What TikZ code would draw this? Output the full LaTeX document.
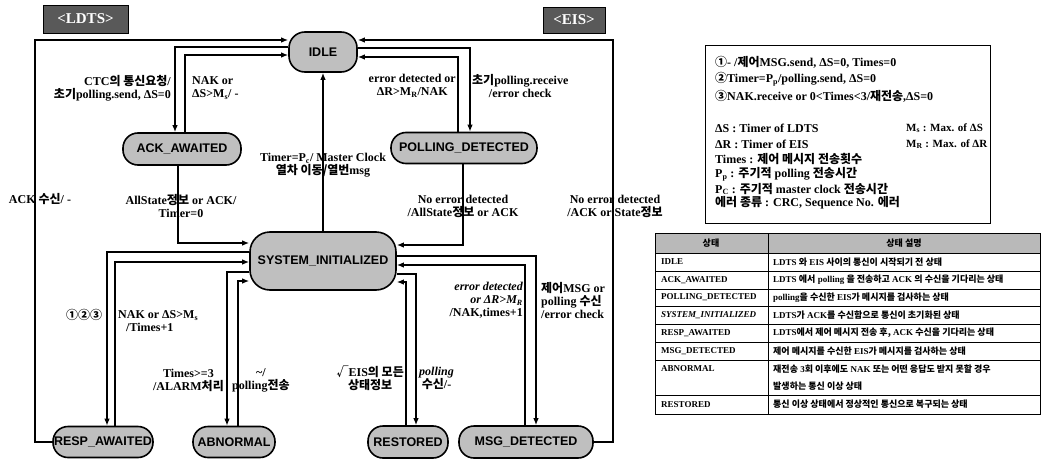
\documentclass[tikz,border=0pt]{standalone}
\usepackage{fontspec}
\setmainfont{Liberation Serif}
\newfontfamily\sansf{Liberation Sans}
\newfontfamily\krf[Scale=1.0]{Noto Sans CJK KR}
\newcommand\hk[1]{{\krf\bfseries #1}}
\usetikzlibrary{arrows.meta,calc}
\begin{document}
\begin{tikzpicture}[x=1pt,y=-1pt,
  st/.style={draw=black,line width=1.6pt,fill=gray!50,inner sep=0pt,
     font=\sansf\bfseries\fontsize{12.5}{13}\selectfont},
  tag/.style={draw=black,line width=0.8pt,fill=black!65,text=white,inner sep=0pt,
     font=\bfseries\fontsize{15}{15}\selectfont},
  arr/.style={line width=1.3pt,-{Latex[length=7pt,width=5.5pt]}},
  lbl/.style={inner sep=0pt,font=\bfseries\fontsize{12}{13}\selectfont},
  leg/.style={inner sep=0pt,anchor=west,font=\bfseries\fontsize{12}{13}\selectfont},
  legr/.style={inner sep=0pt,anchor=west,font=\bfseries\fontsize{11}{12}\selectfont},
  tb/.style={inner sep=0pt,anchor=west,font=\bfseries\fontsize{9}{10}\selectfont},
]
\useasboundingbox (0,0) rectangle (1045,471);
\fill[white] (0,0) rectangle (1045,471);

% titles
\node[tag,minimum width=85pt,minimum height=28pt] (tldts) at (85.5,19) {<LDTS>};
\node[tag,minimum width=62pt,minimum height=26pt] (teis) at (574,20) {<EIS>};

% states
\node[st,minimum width=68pt,minimum height=40pt,rounded corners=16pt] (idle) at (323,52) {IDLE};
\node[st,minimum width=118pt,minimum height=32pt,rounded corners=15pt] (ack) at (182,149) {ACK\_AWAITED};
\node[st,minimum width=146pt,minimum height=31pt,rounded corners=15pt] (poll) at (464,148) {POLLING\_DETECTED};
\node[st,minimum width=146pt,minimum height=58pt,rounded corners=20pt] (sys) at (323,261) {SYSTEM\_INITIALIZED};
\node[st,minimum width=100pt,minimum height=31pt,rounded corners=15pt] (resp) at (103,442) {RESP\_AWAITED};
\node[st,minimum width=82pt,minimum height=31pt,rounded corners=15pt] (abn) at (234,442) {ABNORMAL};
\node[st,minimum width=80pt,minimum height=32pt,rounded corners=15pt] (rest) at (408,442) {RESTORED};
\node[st,minimum width=134pt,minimum height=32pt,rounded corners=15pt] (msg) at (526,442) {MSG\_DETECTED};

\coordinate (cA) at (35,40);
\coordinate (cB) at (613,40);

% connectors
\draw[arr] (resp.west) -| (cA) -- (idle.west |- cA);
\draw[arr] (idle.west |- 0,47) -| ([xshift=-7pt]ack.north);
\draw[arr] ([xshift=3pt]ack.north) |- (idle.west |- 0,55);
\draw[arr] (idle.east |- 0,48) -| ([xshift=6pt]poll.north);
\draw[arr] ([xshift=-6pt]poll.north) |- (idle.east |- 0,57);
\draw[arr] (msg.east) -| (cB) -- (idle.east |- cB);
\draw[arr] (sys.north) -- (sys.north |- idle.south);
\draw[arr] ([xshift=-4pt]ack.south) |- (sys.west |- 0,243);
\draw[arr] ([xshift=-1pt]poll.south) |- (sys.east |- 0,245);
\draw[arr] (sys.west |- 0,252) -| ([xshift=4pt]resp.north);
\draw[arr] ([xshift=12pt]resp.north) |- (sys.west |- 0,262);
\draw[arr] (sys.west |- 0,272) -| ([xshift=-7pt]abn.north);
\draw[arr] ([xshift=4pt]abn.north) |- (sys.west |- 0,281);
\draw[arr] (sys.east |- 0,256) -| ([xshift=10pt]msg.north);
\draw[arr] ([xshift=-1pt]msg.north) |- (sys.east |- 0,265);
\draw[arr] (sys.east |- 0,274) -| ([xshift=8pt]rest.north);
\draw[arr] ([xshift=-2pt]rest.north) |- (sys.east |- 0,282);

% labels
\node[lbl,anchor=east,align=right] (lctc) at (171,88) {CTC\hk{의 통신요청}/\\\hk{초기}polling.send, ΔS=0};
\node[lbl,anchor=west,align=left] (lnak) at (192,88) {NAK or\\ΔS>M\textsubscript{s}/ -};
\node[lbl,anchor=east,align=center] (lerr) at (456,86) {error detected or\\ΔR>M\textsubscript{R}/NAK};
\node[lbl,anchor=west,align=center] (lrcv) at (472,86) {\hk{초기}polling.receive\\/error check};
\node[lbl,align=center] (ltim) at (323,165) {Timer=P\textsubscript{c}/ Master Clock\\\hk{열차 이동/열번}msg};
\node[lbl] (lack) at (40,199) {ACK \hk{수신}/ -};
\node[lbl,align=center] (lall) at (181,206) {AllState\hk{정보} or ACK/\\Timer=0};
\node[lbl,align=center] (lno1) at (463,206) {No error detected\\/AllState\hk{정보} or ACK};
\node[lbl,align=center] (lno2) at (615,206) {No error detected\\/ACK or State\hk{정보}};
\node[lbl] (lcirc) at (84,315) {\hk{①②③}};
\node[lbl,anchor=west,align=left] (lnak2) at (118,321) {NAK or ΔS>M\textsubscript{s}\\\hspace{8pt}/Times+1};
\node[lbl,anchor=east,align=right] (lerr2) at (523,300) {{\itshape error detected}\\{\itshape or ΔR>M\textsubscript{R}}\\/NAK,times+1};
\node[lbl,anchor=west,align=left] (lctl) at (541,300) {\hk{제어}MSG or\\polling \hk{수신}\\/error check};
\node[lbl,anchor=east,align=center] (ltm3) at (224,380) {Times>=3\\/ALARM\hk{처리}};
\node[lbl,anchor=west,align=center] (lpol) at (232,380) {\textasciitilde/\\polling\hk{전송}};
\node[lbl,anchor=east,align=center] (leis) at (404,378) {\hk{√}EIS\hk{의 모든}\\\hk{상태정보}};
\node[lbl,anchor=west,align=center] (lps) at (419,378) {{\itshape polling}\\\hk{수신}/-};

% legend
\node[draw,line width=1pt,minimum width=285pt,minimum height=178pt,inner sep=0pt] (legbox) at (847.5,134) {};
\node[leg] (g1) at (715,62) {\hk{①}- /\hk{제어}MSG.send, ΔS=0, Times=0};
\node[leg] (g2) at (715,79) {\hk{②}Timer=P\textsubscript{p}/polling.send, ΔS=0};
\node[leg] (g3) at (715,96) {\hk{③}NAK.receive or 0<Times<3/\hk{재전송},ΔS=0};
\node[leg] (g4) at (715,128) {ΔS : Timer of LDTS};
\node[legr] (g5) at (906,128) {M\textsubscript{s} : Max. of ΔS};
\node[leg] (g6) at (715,144) {ΔR : Timer of EIS};
\node[legr] (g7) at (906,144) {M\textsubscript{R} : Max. of ΔR};
\node[leg] (g8) at (715,159) {Times : \hk{제어 메시지 전송횟수}};
\node[leg] (g9) at (715,174) {P\textsubscript{p} : \hk{주기적} polling \hk{전송시간}};
\node[leg] (g10) at (715,189) {P\textsubscript{C} : \hk{주기적} master clock \hk{전송시간}};
\node[leg] (g11) at (715,203) {\hk{에러 종류} : CRC, Sequence No. \hk{에러}};

% table
\fill[gray!55] (655,233) rectangle (1040,253);
\draw[line width=1pt] (655,233) rectangle (1040,414);
\foreach \yy in {253,271,289,306,324,342,360,395} \draw[line width=0.8pt] (655,\yy) -- (1040,\yy);
\draw[line width=0.8pt] (768,233) -- (768,414);
\node[tb,anchor=center] (h1) at (711,243) {\hk{상태}};
\node[tb,anchor=center] (h2) at (904,243) {\hk{상태 설명}};
\node[tb] (r1) at (661,262) {IDLE};
\node[tb] (r2) at (661,280) {ACK\_AWAITED};
\node[tb] (r3) at (661,297.5) {POLLING\_DETECTED};
\node[tb] (r4) at (661,315) {\itshape SYSTEM\_INITIALIZED};
\node[tb] (r5) at (661,333) {RESP\_AWAITED};
\node[tb] (r6) at (661,351) {MSG\_DETECTED};
\node[tb] (r7) at (661,369) {ABNORMAL};
\node[tb] (r8) at (661,404.5) {RESTORED};
\node[tb] (d1) at (773,262) {LDTS \hk{와} EIS \hk{사이의 통신이 시작되기 전 상태}};
\node[tb] (d2) at (773,280) {LDTS \hk{에서} polling \hk{을 전송하고} ACK \hk{의 수신을 기다리는 상태}};
\node[tb] (d3) at (773,297.5) {polling\hk{을 수신한} EIS\hk{가 메시지를 검사하는 상태}};
\node[tb] (d4) at (773,315) {LDTS\hk{가} ACK\hk{를 수신함으로 통신이 초기화된 상태}};
\node[tb] (d5) at (773,333) {LDTS\hk{에서 제어 메시지 전송 후,} ACK \hk{수신을 기다리는 상태}};
\node[tb] (d6) at (773,351) {\hk{제어 메시지를 수신한} EIS\hk{가 메시지를 검사하는 상태}};
\node[tb] (d7) at (773,369) {\hk{재전송} 3\hk{회 이후에도} NAK \hk{또는 어떤 응답도 받지 못할 경우}};
\node[tb] (d7b) at (773,386) {\hk{발생하는 통신 이상 상태}};
\node[tb] (d8) at (773,404.5) {\hk{통신 이상 상태에서 정상적인 통신으로 복구되는 상태}};
\end{tikzpicture}
\end{document}
